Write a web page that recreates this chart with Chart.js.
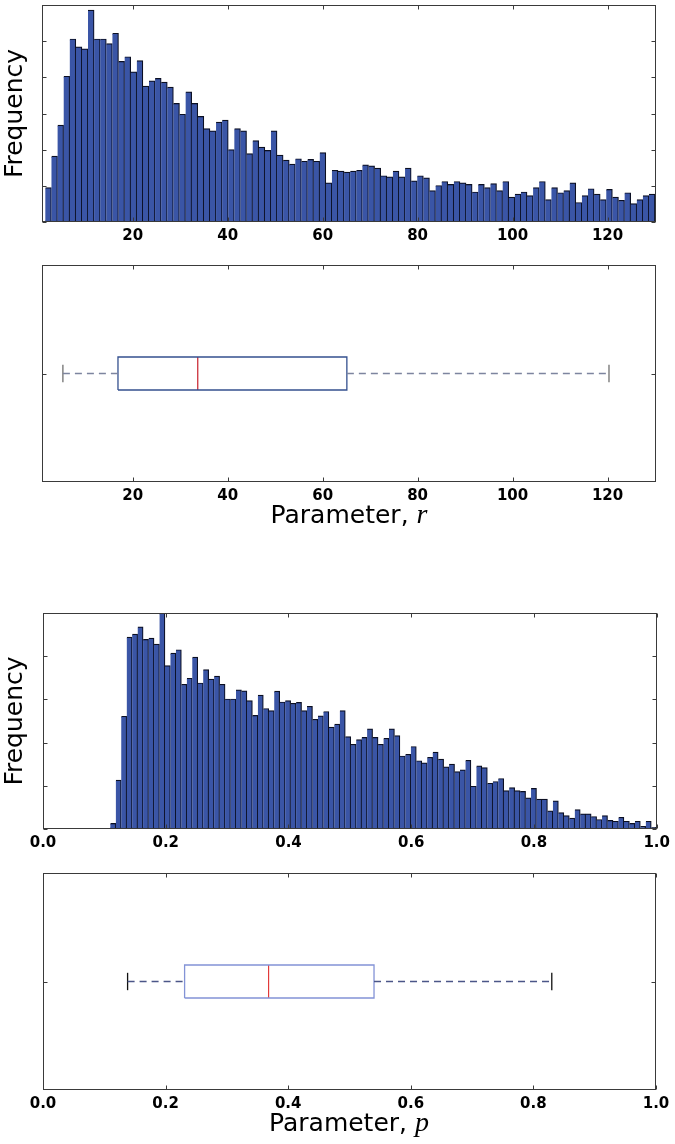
<!DOCTYPE html>
<html>
<head>
<meta charset="utf-8">
<script src="https://cdn.jsdelivr.net/npm/chart.js@4.4.1/dist/chart.umd.min.js"></script>
<style>
  body { margin: 0; background: #fff; width: 675px; height: 1144px; position: relative; overflow: hidden; }
  canvas { position: absolute; left: 0; }
  .xlabel { position: absolute; left: 42px; width: 614px; text-align: center; font: 25px "DejaVu Sans"; line-height: 25px; color: #000; }
  .xlabel i { font-family: "Liberation Serif"; font-size: 28px; }
</style>
</head>
<body>
<canvas id="histR" width="675" height="248" style="top:0px"></canvas>
<canvas id="boxR" width="675" height="262" style="top:248px"></canvas>
<canvas id="histP" width="675" height="265" style="top:590px"></canvas>
<canvas id="boxP" width="675" height="260" style="top:855px"></canvas>
<div class="xlabel" style="top:501px">Parameter, <i>r</i></div>
<div class="xlabel" style="top:1109px">Parameter, <i>p</i></div>
<script>
// histogram of r, 100 bins
const rCounts = [
  95, 182, 268, 403, 506, 484, 479, 586, 506, 506,
  493, 522, 444, 457, 415, 446, 376, 390, 397, 387,
  373, 328, 298, 360, 328, 292, 258, 252, 276, 282,
  200, 258, 252, 189, 225, 207, 198, 252, 185, 171,
  160, 175, 168, 173, 168, 192, 108, 143, 141, 138,
  141, 143, 158, 155, 149, 128, 125, 141, 125, 149,
  114, 128, 122, 87, 101, 112, 104, 112, 108, 104,
  83, 104, 95, 106, 87, 112, 69, 77, 83, 73,
  95, 112, 62, 95, 81, 87, 108, 54, 73, 92,
  77, 62, 90, 69, 60, 81, 51, 62, 73, 77
];
const rBins = [1.6, 130];
const rLimits = [0.9, 130.2];
const rTicks = [20, 40, 60, 80, 100, 120];
const rFreqTicks = [0, 100, 200, 300, 400, 500, 600];
// whisker low, q1, median, q3, whisker high
const rBox = [5.3, 16.9, 33.7, 65.1, 120.3];

// histogram of p, 100 bins
const pCounts = [
  13, 113, 261, 444, 451, 468, 439, 442, 428, 500,
  378, 407, 415, 335, 349, 398, 338, 369, 347, 354,
  335, 301, 301, 322, 320, 297, 263, 310, 279, 274,
  319, 294, 297, 291, 293, 274, 284, 254, 262, 272,
  236, 243, 274, 214, 196, 207, 212, 232, 212, 196,
  210, 232, 216, 169, 173, 191, 158, 153, 166, 178,
  162, 144, 150, 133, 137, 159, 99, 146, 142, 106,
  110, 117, 89, 96, 89, 87, 72, 94, 69, 69,
  42, 65, 38, 31, 25, 45, 35, 35, 29, 22,
  31, 20, 18, 27, 18, 13, 18, 6, 18, 4
];
const pBins = [0.1097, 1.0];
const pLimits = [0, 1];
const pTicks = [0, 0.2, 0.4, 0.6, 0.8, 1.0];
const pFreqTicks = [0, 100, 200, 300, 400, 500];
const pBox = [0.138, 0.231, 0.368, 0.540, 0.830];

const boxHalf = 0.076;
const capHalf = 0.04;
const tickFont = { family: "DejaVu Sans", size: 15, weight: "bold" };

const binCenters = (range, n) =>
  Array.from({ length: n }, (_, i) => range[0] + (i + 0.5) * (range[1] - range[0]) / n);

// frame round the plot area, with inward ticks on all four sides
const frame = {
  id: "frame",
  afterDraw(chart) {
    const { ctx, chartArea: a, scales } = chart;
    const l = Math.round(a.left) + 0.5, r = Math.round(a.right) - 0.5;
    const t = Math.round(a.top) + 0.5, b = Math.round(a.bottom) - 0.5;
    ctx.save();
    ctx.strokeStyle = "#3a3a3a";
    ctx.lineWidth = 1;
    ctx.strokeRect(l, t, r - l, b - t);
    ctx.beginPath();
    scales.x.ticks.forEach((tk) => {
      const px = Math.round(scales.x.getPixelForValue(tk.value)) + 0.5;
      ctx.moveTo(px, b); ctx.lineTo(px, b - 4);
      ctx.moveTo(px, t); ctx.lineTo(px, t + 4);
    });
    scales.y.ticks.forEach((tk) => {
      const py = Math.round(scales.y.getPixelForValue(tk.value)) + 0.5;
      ctx.moveTo(l, py); ctx.lineTo(l + 4, py);
      ctx.moveTo(r, py); ctx.lineTo(r - 4, py);
    });
    ctx.stroke();
    ctx.restore();
  },
};

const makeScales = (xLim, xTicks, fmt, yLim, yTicks, yTitle, yWidth, xHeight) => ({
  x: {
    type: "linear",
    min: xLim[0],
    max: xLim[1],
    offset: false,
    afterBuildTicks: (s) => { s.ticks = xTicks.map((v) => ({ value: v })); },
    afterFit: (s) => { s.height = xHeight; },
    ticks: { callback: fmt, font: tickFont, color: "#000", padding: 5, maxRotation: 0, autoSkip: false },
    grid: { display: false, drawTicks: false },
    border: { display: false },
  },
  y: {
    type: "linear",
    min: yLim[0],
    max: yLim[1],
    afterBuildTicks: (s) => { s.ticks = yTicks.map((v) => ({ value: v })); },
    afterFit: (s) => { s.width = yWidth; },
    ticks: { display: false },
    grid: { display: false, drawTicks: false },
    border: { display: false },
    title: {
      display: yTitle !== "",
      text: yTitle,
      font: { family: "DejaVu Sans", size: 25 },
      color: "#000",
      padding: { top: 0, bottom: 0 },
    },
  },
});

const baseOptions = (scales, pad) => ({
  responsive: false,
  animation: false,
  events: [],
  layout: { padding: pad },
  plugins: { legend: { display: false }, tooltip: { enabled: false } },
  scales: scales,
});

const histogram = (id, counts, bins, xLim, xTicks, fmt, yTicks, pad, yWidth, xHeight) => {
  const centers = binCenters(bins, counts.length);
  return new Chart(document.getElementById(id), {
    type: "bar",
    data: {
      datasets: [
        {
          data: counts.map((v, i) => ({ x: centers[i], y: v })),
          backgroundColor: "#3a55a6",
          borderColor: "#0b0f22",
          borderWidth: 1.2,
          borderSkipped: "left",
          barPercentage: 1,
          categoryPercentage: 1,
        },
      ],
    },
    options: baseOptions(
      makeScales(xLim, xTicks, fmt, [yTicks[0], yTicks[yTicks.length - 1]], yTicks, "Frequency", yWidth, xHeight),
      pad
    ),
    plugins: [frame],
  });
};

const line = (pts, color, width, dash) => ({
  data: pts,
  showLine: true,
  pointRadius: 0,
  fill: false,
  tension: 0,
  borderColor: color,
  borderWidth: width,
  borderDash: dash || [],
});

const boxplot = (id, stats, xLim, xTicks, fmt, colors, pad, yWidth, xHeight) => {
  const [lo, q1, med, q3, hi] = stats;
  return new Chart(document.getElementById(id), {
    type: "scatter",
    data: {
      datasets: [
        line([{ x: lo, y: 1 }, { x: q1, y: 1 }], colors.whisker, 1.3, [7, 5]),
        line([{ x: q3, y: 1 }, { x: hi, y: 1 }], colors.whisker, 1.3, [7, 5]),
        line([{ x: lo, y: 1 - capHalf }, { x: lo, y: 1 + capHalf }], colors.cap, 1.3),
        line([{ x: hi, y: 1 - capHalf }, { x: hi, y: 1 + capHalf }], colors.cap, 1.3),
        line(
          [
            { x: q1, y: 1 - boxHalf }, { x: q3, y: 1 - boxHalf }, { x: q3, y: 1 + boxHalf },
            { x: q1, y: 1 + boxHalf }, { x: q1, y: 1 - boxHalf },
          ],
          colors.box, 1.3
        ),
        line([{ x: med, y: 1 - boxHalf }, { x: med, y: 1 + boxHalf }], colors.median, 1.2),
      ],
    },
    options: baseOptions(makeScales(xLim, xTicks, fmt, [0.5, 1.5], [1], "", yWidth, xHeight), pad),
    plugins: [frame],
  });
};

const intFmt = (v) => String(v);
const decFmt = (v) => v.toFixed(1);

histogram("histR", rCounts, rBins, rLimits, rTicks, intFmt, rFreqTicks, { top: 5, right: 19, left: 0, bottom: 0 }, 42, 26);
boxplot("boxR", rBox, rLimits, rTicks, intFmt,
  { box: "#34508f", whisker: "#7d859f", cap: "#707070", median: "#c8202c" },
  { top: 17, right: 19, left: 0, bottom: 0 }, 42, 28);
histogram("histP", pCounts, pBins, pLimits, pTicks, decFmt, pFreqTicks, { top: 23, right: 18, left: 0, bottom: 0 }, 43, 26);
boxplot("boxP", pBox, pLimits, pTicks, decFmt,
  { box: "#8393d6", whisker: "#4b5688", cap: "#111111", median: "#e23a3a" },
  { top: 18, right: 19, left: 0, bottom: 0 }, 43, 25);
</script>
</body>
</html>
